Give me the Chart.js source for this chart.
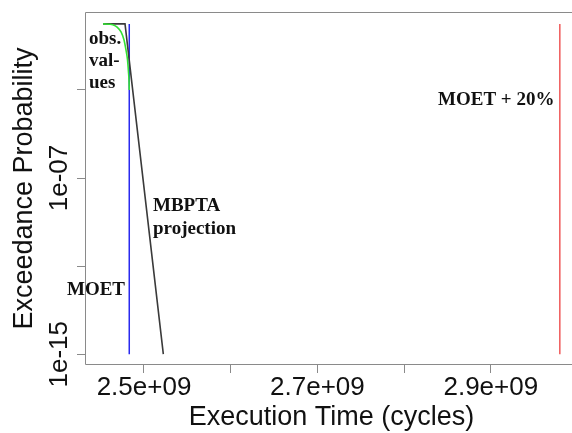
<!DOCTYPE html>
<html><head><meta charset="utf-8">
<script src="https://cdn.jsdelivr.net/npm/chart.js@4.4.0/dist/chart.umd.min.js"></script>
<style>
html,body{margin:0;padding:0;background:#fff;overflow:hidden;width:572px;height:433px}
canvas{display:block}
</style>
</head><body><canvas id="c" width="572" height="433"></canvas>
<script>
// ---- data ----
const obsTimes = [2.4527e9, 2.4600e9, 2.4640e9, 2.4690e9, 2.4735e9, 2.4769e9, 2.4792e9, 2.4810e9, 2.4821e9, 2.4827e9, 2.4830e9];
const obsProb  = [1, 0.97, 0.92, 0.72, 0.43, 0.19, 0.066, 0.023, 0.0066, 0.0028, 0.001];
const projTimes = [2.4527e9, 2.4781e9, 2.5223e9];
const projProb  = [1, 1, 1e-15];
const moetTimes = [2.4830e9, 2.4830e9];
const moet20Times = [2.9796e9, 2.9796e9];
const verticalProb = [1, 1e-15];
const xTickValues = [2.5e9, 2.6e9, 2.7e9, 2.8e9, 2.9e9];
const xTickLabels = ['2.5e+09', '', '2.7e+09', '', '2.9e+09'];
const yTickValues = [1e-3, 1e-7, 1e-11, 1e-15];
const yTickLabels = ['', '1e-07', '', '1e-15'];
const xTitle = 'Execution Time (cycles)';
const yTitle = 'Exceedance Probability';
const obsLabelLines = ['obs.', 'val-', 'ues'];
const projLabelLines = ['MBPTA', 'projection'];
const moetLabel = 'MOET';
const moet20Label = 'MOET + 20%';

const pts = (xs, ys) => xs.map((x, i) => ({x: x, y: ys[i]}));

const SANS = '"Liberation Sans", Arial, sans-serif';
const SERIF = '"Liberation Serif", "Times New Roman", serif';

const textPlugin = {
  id: 'rtext',
  beforeDatasetsDraw(chart) {
    const {ctx, chartArea: a} = chart;
    ctx.save();
    ctx.strokeStyle = '#8a8a8a';
    ctx.lineWidth = 1;
    ctx.beginPath();
    const L = Math.round(a.left) + 0.5, T = Math.round(a.top) + 0.5, B = Math.round(a.bottom) - 0.5, R = chart.width + 2;
    ctx.moveTo(R, T); ctx.lineTo(L, T); ctx.lineTo(L, B); ctx.lineTo(R, B);
    ctx.stroke();
    ctx.restore();
  },
  afterDraw(chart) {
    const {ctx, chartArea: a, scales} = chart;
    const xs = scales.x, ys = scales.y;
    ctx.save();
    ctx.fillStyle = '#111';
    // x tick labels
    ctx.font = '26px ' + SANS;
    ctx.textAlign = 'center';
    ctx.textBaseline = 'alphabetic';
    xTickValues.forEach((v, i) => {
      if (xTickLabels[i]) ctx.fillText(xTickLabels[i], xs.getPixelForValue(v), 395);
    });
    // y tick labels (rotated)
    yTickValues.forEach((v, i) => {
      if (!yTickLabels[i]) return;
      ctx.save();
      ctx.translate(67, ys.getPixelForValue(v));
      ctx.rotate(-Math.PI / 2);
      ctx.fillText(yTickLabels[i], 0, 0);
      ctx.restore();
    });
    // axis titles
    ctx.font = '27px ' + SANS;
    ctx.fillText(xTitle, 331.5, 425);
    ctx.save();
    ctx.translate(32, (a.top + a.bottom) / 2);
    ctx.rotate(-Math.PI / 2);
    ctx.fillText(yTitle, 0, 0);
    ctx.restore();
    // annotations
    ctx.font = 'bold 19px ' + SERIF;
    ctx.fillStyle = '#111';
    ctx.textAlign = 'left';
    obsLabelLines.forEach((s, i) => ctx.fillText(s, 89, 43.5 + i * 22));
    projLabelLines.forEach((s, i) => ctx.fillText(s, 153, 211 + i * 22.5));
    ctx.textAlign = 'right';
    ctx.fillText(moetLabel, 125, 295);
    ctx.textAlign = 'left';
    ctx.fillText(moet20Label, 438, 105);
    ctx.restore();
  }
};

const tickGrid = {display: true, drawOnChartArea: false, drawTicks: true, tickLength: 8, color: '#8a8a8a', lineWidth: 1};

new Chart(document.getElementById('c'), {
  type: 'line',
  data: {
    datasets: [
      {label: 'obs. values', data: pts(obsTimes, obsProb), borderColor: '#33e233', borderWidth: 1.6, pointRadius: 0, cubicInterpolationMode: 'monotone', order: 1},
      {label: 'MBPTA projection', data: pts(projTimes, projProb), borderColor: '#3a3a3a', borderWidth: 1.6, pointRadius: 0, tension: 0, order: 2},
      {label: 'MOET', data: pts(moetTimes, verticalProb), borderColor: '#2a2aee', borderWidth: 1.5, pointRadius: 0, order: 3},
      {label: 'MOET + 20%', data: pts(moet20Times, verticalProb), borderColor: '#f06464', borderWidth: 1.6, pointRadius: 0, order: 4}
    ]
  },
  options: {
    responsive: false,
    animation: false,
    devicePixelRatio: 1,
    layout: {padding: {top: 12, right: 0, left: 0, bottom: 0}},
    plugins: {legend: {display: false}, tooltip: {enabled: false}},
    scales: {
      x: {
        type: 'linear', min: 2.43195e9, max: 2.99366e9,
        afterBuildTicks: s => { s.ticks = xTickValues.map(v => ({value: v})); },
        afterFit: s => { s.height = 68; },
        ticks: {display: false},
        grid: tickGrid,
        border: {display: false}
      },
      y: {
        type: 'logarithmic', min: Math.pow(10, -15.49), max: Math.pow(10, 0.54),
        afterBuildTicks: s => { s.ticks = yTickValues.map(v => ({value: v})); },
        afterFit: s => { s.width = 85; },
        ticks: {display: false},
        grid: tickGrid,
        border: {display: false}
      }
    }
  },
  plugins: [textPlugin]
});
</script>
</body></html>
